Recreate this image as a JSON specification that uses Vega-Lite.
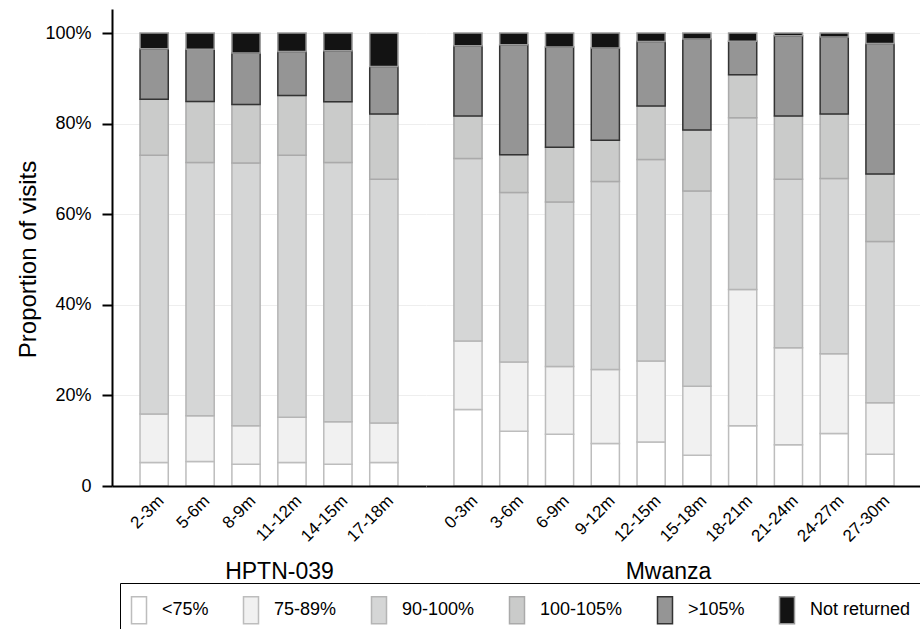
{
  "$schema": "https://vega.github.io/schema/vega-lite/v6.json",
  "padding": {"left": 16, "top": 9, "right": 0, "bottom": 0},
  "background": "white",
  "spacing": 0,
  "config": {"font": "Liberation Sans", "view": {"stroke": null}},
  "data": {"values": [
    {"group": "HPTN-039", "period": "2-3m", "<75%": 5.2, "75-89%": 10.7, "90-100%": 57.1, "100-105%": 12.4, ">105%": 11.1, "Not returned": 3.5},
    {"group": "HPTN-039", "period": "5-6m", "<75%": 5.4, "75-89%": 10.1, "90-100%": 55.9, "100-105%": 13.5, ">105%": 11.5, "Not returned": 3.6},
    {"group": "HPTN-039", "period": "8-9m", "<75%": 4.8, "75-89%": 8.5, "90-100%": 58.0, "100-105%": 12.9, ">105%": 11.4, "Not returned": 4.4},
    {"group": "HPTN-039", "period": "11-12m", "<75%": 5.2, "75-89%": 10.0, "90-100%": 57.8, "100-105%": 13.2, ">105%": 9.7, "Not returned": 4.1},
    {"group": "HPTN-039", "period": "14-15m", "<75%": 4.8, "75-89%": 9.4, "90-100%": 57.2, "100-105%": 13.4, ">105%": 11.3, "Not returned": 3.9},
    {"group": "HPTN-039", "period": "17-18m", "<75%": 5.2, "75-89%": 8.7, "90-100%": 53.8, "100-105%": 14.4, ">105%": 10.5, "Not returned": 7.4},
    {"group": "Mwanza", "period": "0-3m", "<75%": 16.9, "75-89%": 15.1, "90-100%": 40.3, "100-105%": 9.4, ">105%": 15.5, "Not returned": 2.8},
    {"group": "Mwanza", "period": "3-6m", "<75%": 12.1, "75-89%": 15.3, "90-100%": 37.4, "100-105%": 8.3, ">105%": 24.3, "Not returned": 2.6},
    {"group": "Mwanza", "period": "6-9m", "<75%": 11.4, "75-89%": 15.0, "90-100%": 36.3, "100-105%": 12.1, ">105%": 22.1, "Not returned": 3.1},
    {"group": "Mwanza", "period": "9-12m", "<75%": 9.4, "75-89%": 16.3, "90-100%": 41.5, "100-105%": 9.1, ">105%": 20.4, "Not returned": 3.3},
    {"group": "Mwanza", "period": "12-15m", "<75%": 9.7, "75-89%": 17.9, "90-100%": 44.5, "100-105%": 11.8, ">105%": 14.2, "Not returned": 1.9},
    {"group": "Mwanza", "period": "15-18m", "<75%": 6.8, "75-89%": 15.2, "90-100%": 43.1, "100-105%": 13.5, ">105%": 20.1, "Not returned": 1.3},
    {"group": "Mwanza", "period": "18-21m", "<75%": 13.3, "75-89%": 30.1, "90-100%": 37.9, "100-105%": 9.5, ">105%": 7.4, "Not returned": 1.8},
    {"group": "Mwanza", "period": "21-24m", "<75%": 9.1, "75-89%": 21.4, "90-100%": 37.2, "100-105%": 14.0, ">105%": 17.7, "Not returned": 0.6},
    {"group": "Mwanza", "period": "24-27m", "<75%": 11.6, "75-89%": 17.6, "90-100%": 38.7, "100-105%": 14.2, ">105%": 17.0, "Not returned": 0.9},
    {"group": "Mwanza", "period": "27-30m", "<75%": 7.0, "75-89%": 11.4, "90-100%": 35.6, "100-105%": 14.9, ">105%": 28.8, "Not returned": 2.3}
  ]},
  "transform": [
    {"fold": ["<75%", "75-89%", "90-100%", "100-105%", ">105%", "Not returned"], "as": ["cat", "value"]},
    {"calculate": "indexof(['<75%', '75-89%', '90-100%', '100-105%', '>105%', 'Not returned'], datum.cat)", "as": "k"}
  ],
  "hconcat": [
    {
      "width": 314,
      "height": 477,
      "transform": [{"filter": "datum.group == 'HPTN-039'"}],
      "mark": {"type": "bar", "strokeWidth": 1.5},
      "encoding": {
        "x": {
          "field": "period", "type": "nominal",
          "sort": ["2-3m", "5-6m", "8-9m", "11-12m", "14-15m", "17-18m"],
          "scale": {"paddingInner": 0.385, "paddingOuter": 0.61},
          "axis": {"title": "HPTN-039", "titleX": 167, "titleY": 92, "titleBaseline": "alphabetic", "titleFontSize": 23, "titleFontWeight": "normal", "titleColor": "#000",
                   "labelAngle": -45, "labelAlign": "right", "labelBaseline": "middle", "labelFontSize": 17, "labelPadding": 12, "labelOffset": 7, "labelColor": "#000",
                   "ticks": false, "tickSize": 0, "domainColor": "#000", "domainWidth": 2, "zindex": 1}
        },
        "y": {
          "field": "value", "type": "quantitative", "stack": "zero",
          "scale": {"domain": [0, 105.3], "nice": false},
          "axis": {"title": "Proportion of visits", "titleFontSize": 24, "titleFontWeight": "normal", "titleColor": "#000", "titleX": -77, "titleY": 250, "titleBaseline": "alphabetic",
                   "values": [0, 20, 40, 60, 80, 100], "labelExpr": "datum.value == 0 ? '0' : datum.value + '%'",
                   "labelFontSize": 18, "labelPadding": 11, "labelColor": "#000", "tickSize": 10, "tickWidth": 2, "tickColor": "#000",
                   "domainColor": "#000", "domainWidth": 2, "grid": true, "gridColor": "#eeeeee", "gridWidth": 1}
        },
        "fill": {
          "field": "cat", "type": "nominal",
          "scale": {"domain": ["<75%", "75-89%", "90-100%", "100-105%", ">105%", "Not returned"], "range": ["#ffffff", "#f1f1f1", "#d5d6d6", "#cacbca", "#959595", "#131313"]},
          "legend": {"title": " ", "titleFontSize": 6, "titlePadding": 2, "orient": "none", "legendX": 8, "legendY": 574, "direction": "horizontal", "columns": 6,
                     "symbolType": "M-1,-1.8H1V1.8H-1Z", "symbolSize": 225, "symbolStrokeWidth": 1.5,
                     "labelFontSize": 18, "labelOffset": 14, "columnPadding": 31, "padding": 10, "strokeColor": "#000", "fillColor": "#fff", "labelColor": "#000"}
        },
        "stroke": {
          "field": "cat", "type": "nominal",
          "scale": {"domain": ["<75%", "75-89%", "90-100%", "100-105%", ">105%", "Not returned"], "range": ["#bdbdbd", "#bdbdbd", "#b5b5b5", "#aaaaaa", "#333333", "#999999"]},
          "legend": {"title": " ", "titleFontSize": 6, "titlePadding": 2, "orient": "none", "legendX": 8, "legendY": 574, "direction": "horizontal", "columns": 6,
                     "symbolType": "M-1,-1.8H1V1.8H-1Z", "symbolSize": 225, "symbolStrokeWidth": 1.5,
                     "labelFontSize": 18, "labelOffset": 14, "columnPadding": 31, "padding": 10, "strokeColor": "#000", "fillColor": "#fff", "labelColor": "#000"}
        },
        "order": {"field": "k", "type": "quantitative"}
      }
    },
    {
      "width": 496,
      "height": 477,
      "transform": [{"filter": "datum.group == 'Mwanza'"}],
      "mark": {"type": "bar", "strokeWidth": 1.5},
      "encoding": {
        "x": {
          "field": "period", "type": "nominal",
          "sort": ["0-3m", "3-6m", "6-9m", "9-12m", "12-15m", "15-18m", "18-21m", "21-24m", "24-27m", "27-30m"],
          "scale": {"paddingInner": 0.385, "paddingOuter": 0.61},
          "axis": {"title": "Mwanza", "titleX": 242, "titleY": 92, "titleBaseline": "alphabetic", "titleFontSize": 23, "titleFontWeight": "normal", "titleColor": "#000",
                   "labelAngle": -45, "labelAlign": "right", "labelBaseline": "middle", "labelFontSize": 17, "labelPadding": 12, "labelOffset": 7, "labelColor": "#000",
                   "ticks": false, "tickSize": 0, "domainColor": "#000", "domainWidth": 2, "zindex": 1}
        },
        "y": {
          "field": "value", "type": "quantitative", "stack": "zero",
          "scale": {"domain": [0, 105.3], "nice": false},
          "axis": {"title": null, "labels": false, "ticks": false, "domain": false, "values": [0, 20, 40, 60, 80, 100], "grid": true, "gridColor": "#eeeeee", "gridWidth": 1}
        },
        "fill": {
          "field": "cat", "type": "nominal",
          "scale": {"domain": ["<75%", "75-89%", "90-100%", "100-105%", ">105%", "Not returned"], "range": ["#ffffff", "#f1f1f1", "#d5d6d6", "#cacbca", "#959595", "#131313"]}
        },
        "stroke": {
          "field": "cat", "type": "nominal",
          "scale": {"domain": ["<75%", "75-89%", "90-100%", "100-105%", ">105%", "Not returned"], "range": ["#bdbdbd", "#bdbdbd", "#b5b5b5", "#aaaaaa", "#333333", "#999999"]}
        },
        "order": {"field": "k", "type": "quantitative"}
      }
    }
  ]
}
